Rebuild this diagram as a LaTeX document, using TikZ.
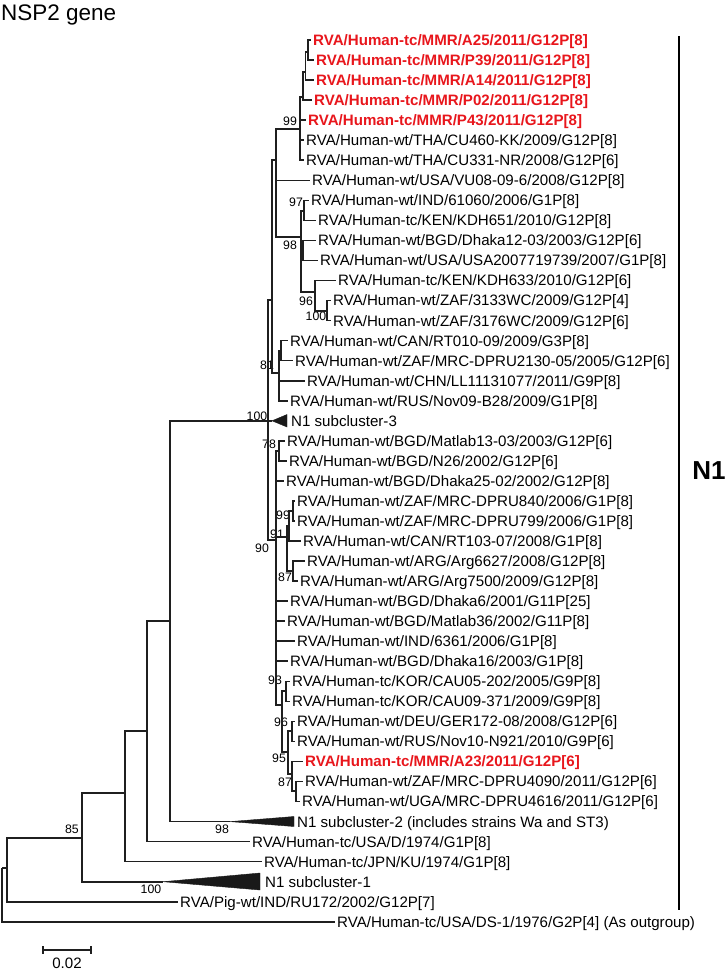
\documentclass[tikz,border=0pt]{standalone}
\usepackage{fontspec}
\setmainfont{Liberation Sans}
\definecolor{treered}{RGB}{232,22,28}
\begin{document}
\begin{tikzpicture}[x=1pt,y=-1pt,
  br/.style={draw=black!88, line width=1.6pt},
  leaf/.style={anchor=west, inner xsep=2pt, inner ysep=0pt, text height=10.8pt, text depth=0pt, font=\fontsize{15.1}{16}\selectfont},
  rleaf/.style={leaf, text=treered, font=\fontsize{15.1}{16}\selectfont\bfseries},
  sup/.style={inner sep=0pt, font=\fontsize{12.3}{13}\selectfont},
  tri/.style={fill=black!90, draw=black!90, line width=0.4pt, line join=miter}]
\useasboundingbox (0,0) rectangle (726,971);
\node[anchor=base west, inner sep=0pt, font=\fontsize{22.5}{24}\selectfont] (title) at (1,21) {NSP2 gene};
% leaves
\node[rleaf] (A25) at (311,40.0) {RVA/Human-tc/MMR/A25/2011/G12P[8]};
\node[rleaf] (P39) at (314,60.0) {RVA/Human-tc/MMR/P39/2011/G12P[8]};
\node[rleaf] (A14) at (314,80.1) {RVA/Human-tc/MMR/A14/2011/G12P[8]};
\node[rleaf] (P02) at (312,100.1) {RVA/Human-tc/MMR/P02/2011/G12P[8]};
\node[rleaf] (P43) at (306,120.2) {RVA/Human-tc/MMR/P43/2011/G12P[8]};
\node[leaf] (CU460) at (304,140.2) {RVA/Human-wt/THA/CU460-KK/2009/G12P[8]};
\node[leaf] (CU331) at (304,160.2) {RVA/Human-wt/THA/CU331-NR/2008/G12P[6]};
\node[leaf] (VU08) at (310,180.3) {RVA/Human-wt/USA/VU08-09-6/2008/G12P[8]};
\node[leaf] (IND61060) at (309,200.3) {RVA/Human-wt/IND/61060/2006/G1P[8]};
\node[leaf] (KDH651) at (316,220.4) {RVA/Human-tc/KEN/KDH651/2010/G12P[8]};
\node[leaf] (Dhaka12) at (316,240.4) {RVA/Human-wt/BGD/Dhaka12-03/2003/G12P[6]};
\node[leaf] (USA2007) at (318,260.4) {RVA/Human-wt/USA/USA2007719739/2007/G1P[8]};
\node[leaf] (KDH633) at (336,280.5) {RVA/Human-tc/KEN/KDH633/2010/G12P[6]};
\node[leaf] (WC3133) at (331,300.5) {RVA/Human-wt/ZAF/3133WC/2009/G12P[4]};
\node[leaf] (WC3176) at (331,320.6) {RVA/Human-wt/ZAF/3176WC/2009/G12P[6]};
\node[leaf] (RT010) at (288,340.6) {RVA/Human-wt/CAN/RT010-09/2009/G3P[8]};
\node[leaf] (DPRU2130) at (293,360.6) {RVA/Human-wt/ZAF/MRC-DPRU2130-05/2005/G12P[6]};
\node[leaf] (LL111) at (305,380.7) {RVA/Human-wt/CHN/LL11131077/2011/G9P[8]};
\node[leaf] (Nov09) at (288,400.7) {RVA/Human-wt/RUS/Nov09-B28/2009/G1P[8]};
\node[leaf] (sub3) at (289,420.8) {N1 subcluster-3};
\node[leaf] (Matlab13) at (285,440.8) {RVA/Human-wt/BGD/Matlab13-03/2003/G12P[6]};
\node[leaf] (N26) at (287,460.8) {RVA/Human-wt/BGD/N26/2002/G12P[6]};
\node[leaf] (Dhaka25) at (284,480.9) {RVA/Human-wt/BGD/Dhaka25-02/2002/G12P[8]};
\node[leaf] (DPRU840) at (295,500.9) {RVA/Human-wt/ZAF/MRC-DPRU840/2006/G1P[8]};
\node[leaf] (DPRU799) at (295,521.0) {RVA/Human-wt/ZAF/MRC-DPRU799/2006/G1P[8]};
\node[leaf] (RT103) at (301,541.0) {RVA/Human-wt/CAN/RT103-07/2008/G1P[8]};
\node[leaf] (Arg6627) at (305,561.0) {RVA/Human-wt/ARG/Arg6627/2008/G12P[8]};
\node[leaf] (Arg7500) at (298,581.1) {RVA/Human-wt/ARG/Arg7500/2009/G12P[8]};
\node[leaf] (Dhaka6) at (288,601.1) {RVA/Human-wt/BGD/Dhaka6/2001/G11P[25]};
\node[leaf] (Matlab36) at (285,621.2) {RVA/Human-wt/BGD/Matlab36/2002/G11P[8]};
\node[leaf] (IND6361) at (295,641.2) {RVA/Human-wt/IND/6361/2006/G1P[8]};
\node[leaf] (Dhaka16) at (288,661.2) {RVA/Human-wt/BGD/Dhaka16/2003/G1P[8]};
\node[leaf] (CAU05) at (290,681.3) {RVA/Human-tc/KOR/CAU05-202/2005/G9P[8]};
\node[leaf] (CAU09) at (290,701.3) {RVA/Human-tc/KOR/CAU09-371/2009/G9P[8]};
\node[leaf] (GER172) at (295,721.4) {RVA/Human-wt/DEU/GER172-08/2008/G12P[6]};
\node[leaf] (Nov10) at (295,741.4) {RVA/Human-wt/RUS/Nov10-N921/2010/G9P[6]};
\node[rleaf] (A23) at (303,761.4) {RVA/Human-tc/MMR/A23/2011/G12P[6]};
\node[leaf] (DPRU4090) at (303,781.5) {RVA/Human-wt/ZAF/MRC-DPRU4090/2011/G12P[6]};
\node[leaf] (DPRU4616) at (300,801.5) {RVA/Human-wt/UGA/MRC-DPRU4616/2011/G12P[6]};
\node[leaf] (sub2) at (295,821.6) {N1 subcluster-2 (includes strains Wa and ST3)};
\node[leaf] (D1974) at (250,841.6) {RVA/Human-tc/USA/D/1974/G1P[8]};
\node[leaf] (KU) at (262,861.6) {RVA/Human-tc/JPN/KU/1974/G1P[8]};
\node[leaf] (sub1) at (263,881.7) {N1 subcluster-1};
\node[leaf] (RU172) at (178,901.7) {RVA/Pig-wt/IND/RU172/2002/G12P[7]};
\node[leaf] (DS1) at (335,921.8) {RVA/Human-tc/USA/DS-1/1976/G2P[4] (As outgroup)};
% support values
\node[sup] (s85) at (72,829) {85};
\node[sup] (s100a) at (151,889) {100};
\node[sup] (s98a) at (222,829) {98};
\node[sup] (s100b) at (257,416) {100};
\node[sup] (s99a) at (290,121) {99};
\node[sup] (s97) at (296,202) {97};
\node[sup] (s98b) at (290,245) {98};
\node[sup] (s96a) at (306,301) {96};
\node[sup] (s100c) at (316,316) {100};
\node[sup] (s81) at (267,365) {81};
\node[sup] (s78) at (269,444) {78};
\node[sup] (s99b) at (283,515) {99};
\node[sup] (s91) at (277,534) {91};
\node[sup] (s90) at (262,548) {90};
\node[sup] (s87a) at (285,577) {87};
\node[sup] (s93) at (275,680) {93};
\node[sup] (s96b) at (281,722) {96};
\node[sup] (s95) at (279,758) {95};
\node[sup] (s87b) at (285,782) {87};
% internal nodes
\coordinate (root) at (2,868);
\coordinate (nA) at (7,868);
\coordinate (n85) at (82,838);
\coordinate (nB) at (125,793);
\coordinate (nC) at (147,731);
\coordinate (nD) at (170,621);
\coordinate (nX) at (268,420.8);
\coordinate (nU3) at (272,300);
\coordinate (nU1) at (276,160);
\coordinate (n99) at (300,129);
\coordinate (n3) at (303,97);
\coordinate (n2) at (305.5,72);
\coordinate (n1) at (308,52);
\coordinate (n98) at (301,237);
\coordinate (n97) at (304,211);
\coordinate (nBG) at (303,250);
\coordinate (n96) at (315,292);
\coordinate (n100b) at (327,311);
\coordinate (n81) at (279,373);
\coordinate (nCZ) at (281,351);
\coordinate (nL2) at (276,540);
\coordinate (n78) at (279,451);
\coordinate (n91) at (287,537);
\coordinate (n99b) at (289,526);
\coordinate (nZ) at (293,511);
\coordinate (nARG) at (293,571);
\coordinate (nL3) at (282,705);
\coordinate (n93) at (286,691);
\coordinate (nL4) at (288,752);
\coordinate (n96c) at (292,731);
\coordinate (n95) at (292,774);
\coordinate (n87b) at (296,791);
\coordinate (t1) at (163,881.7);
\coordinate (t2) at (230,821.6);
\coordinate (t3) at (272,420.8);
% collapsed clades
\filldraw[tri] (t1) -- (260,873) -- (260,890) -- cycle;
\filldraw[tri] (t2) -- (294,816.5) -- (294,826.5) -- cycle;
\filldraw[tri] (t3) -- (287,414.5) -- (287,427) -- cycle;
% branches
\draw[br] (root) |- (nA);
\draw[br] (root) |- (DS1.west);
\draw[br] (nA) |- (n85);
\draw[br] (nA) |- (RU172.west);
\draw[br] (n85) |- (nB);
\draw[br] (n85) |- (t1);
\draw[br] (nB) |- (nC);
\draw[br] (nB) |- (KU.west);
\draw[br] (nC) |- (nD);
\draw[br] (nC) |- (D1974.west);
\draw[br] (nD) |- (nX);
\draw[br] (nD) |- (t2);
\draw[br] (nX) |- (nU3);
\draw[br] (nX) |- (t3);
\draw[br] (nX) |- (nL2);
\draw[br] (nU3) |- (nU1);
\draw[br] (nU3) |- (n81);
\draw[br] (nU1) |- (n99);
\draw[br] (nU1) |- (VU08.west);
\draw[br] (nU1) |- (n98);
\draw[br] (n99) |- (n3);
\draw[br] (n99) |- (P43.west);
\draw[br] (n99) |- (CU460.west);
\draw[br] (n99) |- (CU331.west);
\draw[br] (n3) |- (n2);
\draw[br] (n3) |- (P02.west);
\draw[br] (n2) |- (n1);
\draw[br] (n2) |- (A14.west);
\draw[br] (n1) |- (A25.west);
\draw[br] (n1) |- (P39.west);
\draw[br] (n98) |- (n97);
\draw[br] (n98) |- (nBG);
\draw[br] (n98) |- (n96);
\draw[br] (n97) |- (IND61060.west);
\draw[br] (n97) |- (KDH651.west);
\draw[br] (nBG) |- (Dhaka12.west);
\draw[br] (nBG) |- (USA2007.west);
\draw[br] (n96) |- (KDH633.west);
\draw[br] (n96) |- (n100b);
\draw[br] (n100b) |- (WC3133.west);
\draw[br] (n100b) |- (WC3176.west);
\draw[br] (n81) |- (nCZ);
\draw[br] (n81) |- (LL111.west);
\draw[br] (n81) |- (Nov09.west);
\draw[br] (nCZ) |- (RT010.west);
\draw[br] (nCZ) |- (DPRU2130.west);
\draw[br] (nL2) |- (n78);
\draw[br] (nL2) |- (Dhaka25.west);
\draw[br] (nL2) |- (n91);
\draw[br] (nL2) |- (Dhaka6.west);
\draw[br] (nL2) |- (Matlab36.west);
\draw[br] (nL2) |- (IND6361.west);
\draw[br] (nL2) |- (Dhaka16.west);
\draw[br] (nL2) |- (nL3);
\draw[br] (n78) |- (Matlab13.west);
\draw[br] (n78) |- (N26.west);
\draw[br] (n91) |- (n99b);
\draw[br] (n91) |- (nARG);
\draw[br] (n99b) |- (nZ);
\draw[br] (n99b) |- (RT103.west);
\draw[br] (nZ) |- (DPRU840.west);
\draw[br] (nZ) |- (DPRU799.west);
\draw[br] (nARG) |- (Arg6627.west);
\draw[br] (nARG) |- (Arg7500.west);
\draw[br] (nL3) |- (n93);
\draw[br] (nL3) |- (nL4);
\draw[br] (n93) |- (CAU05.west);
\draw[br] (n93) |- (CAU09.west);
\draw[br] (nL4) |- (n96c);
\draw[br] (nL4) |- (n95);
\draw[br] (n96c) |- (GER172.west);
\draw[br] (n96c) |- (Nov10.west);
\draw[br] (n95) |- (A23.west);
\draw[br] (n95) |- (n87b);
\draw[br] (n87b) |- (DPRU4090.west);
\draw[br] (n87b) |- (DPRU4616.west);
% N1 bracket
\coordinate (barT) at (679,36);
\coordinate (barB) at (679,910);
\draw[line width=1.9pt] (barT) -- (barB);
\node[inner sep=0pt, font=\fontsize{26}{28}\selectfont\bfseries] (N1) at (709,471) {N1};
% scale bar
\coordinate (sbL) at (43,950);
\coordinate (sbR) at (91,950);
\draw[br] (sbL) -- (sbR);
\draw[br] ([yshift=4pt]sbL) -- ([yshift=-4pt]sbL);
\draw[br] ([yshift=4pt]sbR) -- ([yshift=-4pt]sbR);
\node[inner sep=0pt, font=\fontsize{15.1}{16}\selectfont] (sbT) at (67,963) {0.02};
\end{tikzpicture}
\end{document}
